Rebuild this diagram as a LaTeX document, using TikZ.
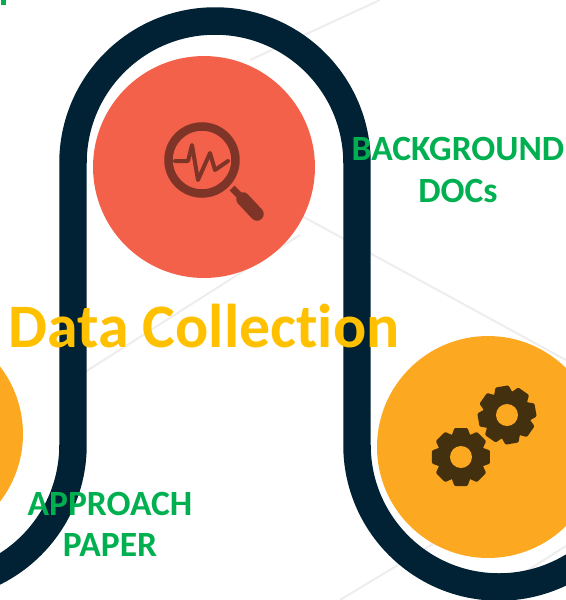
\documentclass[tikz,border=0pt]{standalone}
\usepackage{fontspec}
\setmainfont[Ligatures=NoCommon]{Carlito}
\usepackage{xcolor}
\usetikzlibrary{positioning}
\definecolor{navy}{HTML}{012235}
\definecolor{coral}{HTML}{F4614A}
\definecolor{amber}{HTML}{FDA821}
\definecolor{lensbrown}{HTML}{7E3427}
\definecolor{gearbrown}{HTML}{43300F}
\definecolor{heading}{HTML}{FFC000}
\definecolor{caption}{HTML}{00B050}
\tikzstyle{disc} = [circle, inner sep=0pt, minimum size=4.44cm]
\tikzstyle{tube} = [draw=navy, line width=0.55cm]
\tikzstyle{caption} = [text=caption, font=\bfseries\fontsize{20.2}{23.4}\selectfont, align=center]
\tikzstyle{heading} = [text=heading, font=\bfseries\fontsize{35.2}{42}\selectfont]
\tikzstyle{faint} = [draw=black!7, line width=0.04cm]
\tikzstyle{gear} = [fill=gearbrown, draw=gearbrown, line width=0.06cm, line join=round]
\newcommand{\gearshape}[1]{
  \foreach \a in {0,45,...,315}
    \path [gear, rotate around={\a+#1:(0,0)}] (-9,18) -- (9,18) -- (5.5,27.5) -- (-5.5,27.5) -- cycle;
  \fill [gearbrown] (0,0) circle (24);
  \fill [amber] (0,0) circle (11);
}
\begin{document}
\begin{tikzpicture}[x=0.02cm, y=-0.02cm]
  \useasboundingbox (0,0) rectangle (566,600);
  \clip (0,0) rectangle (566,600);
  % Place background lines
  \coordinate (f1) at (250,60);
  \coordinate (f2) at (380,0);
  \coordinate (f3) at (300,215);
  \coordinate (f4) at (566,360);
  \coordinate (f5) at (85,372);
  \coordinate (f6) at (300,235);
  \coordinate (f7) at (340,600);
  \coordinate (f8) at (436,542);
  \coordinate (f9) at (525,572);
  \coordinate (f10) at (566,546);
  \path [faint] (f1) -- (f2);
  \path [faint] (f3) -- (f4);
  \path [faint] (f5) -- (f6);
  \path [faint] (f7) -- (f8);
  \path [faint] (f9) -- (f10);

  % Place tube
  \coordinate (t1) at (73,445);
  \coordinate (t2) at (357,445);
  \path [tube] (-69,587) arc [start angle=270, end angle=360, x radius=142, y radius=-142]
    -- (73,163) arc [start angle=180, end angle=0, x radius=142, y radius=-142]
    -- (t2) arc [start angle=180, end angle=320, x radius=142, y radius=-142];

  % Place discs
  \node [disc, fill=amber] (gears) at (488,447) {};
  \node [disc, fill=coral] (lens) at (204,167) {};
  \node [disc, fill=amber] (prev) at (-88,434) {};

  % Magnifier
  \coordinate (glass) at (202,160);
  \draw [lensbrown, line width=0.17cm] (glass) circle (33.5);
  \draw [lensbrown, line width=0.08cm, line join=round, line cap=round]
    (175,161) -- (188,161) -- (192,145) -- (198,180) -- (210,153) -- (215,170) -- (228,161);
  \coordinate (neck) at (232,188);
  \coordinate (grip) at (243,199);
  \coordinate (tip) at (257,214);
  \draw [lensbrown, line width=0.14cm] (neck) -- (grip);
  \draw [lensbrown, line width=0.27cm, line cap=round] (grip) -- (tip);

  % Gears
  \begin{scope}[shift={(507,415)}]
    \gearshape{10}
  \end{scope}
  \begin{scope}[shift={(461,457)}]
    \gearshape{0}
  \end{scope}

  % Place labels
  \node [heading] (title) at (204,326) {Data Collection};
  \node [caption] (docs) at (458,170) {BACKGROUND\\DOCs};
  \node [caption] (paper) at (110,524) {APPROACH\\PAPER};
  \node [caption, anchor=south west, inner sep=0pt] (cut) at (1,5) {\rule{0.1cm}{0.2cm}};
\end{tikzpicture}
\end{document}
